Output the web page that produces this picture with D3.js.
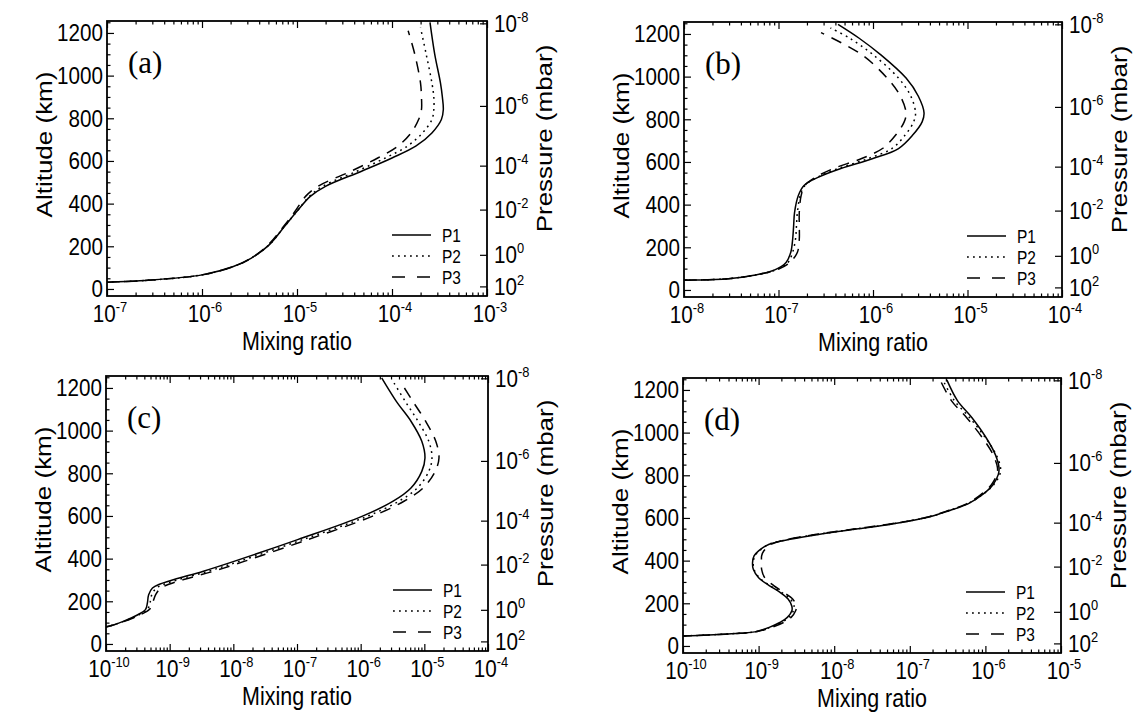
<!DOCTYPE html>
<html>
<head>
<meta charset="utf-8">
<script src="https://cdn.jsdelivr.net/npm/d3@7"></script>
<style>
  body { margin: 0; background: #fff; }
  svg text { font-family: "Liberation Sans", Arial, Helvetica, sans-serif; fill: #000; }
</style>
</head>
<body>
<svg id="chart" width="1134" height="712"></svg>
<script>
// ---- data -------------------------------------------------------------
const seriesNames = ["P1", "P2", "P3"];
const panelLetters = ["(a)", "(b)", "(c)", "(d)"];
// x-axis decades (exponents of 10) for each panel
const xExpRanges = [[-7, -3], [-8, -4], [-10, -4], [-10, -5]];
const altitudeTicks = [0, 200, 400, 600, 800, 1000, 1200];
// pressure levels (exponent of mbar) and the altitude (km) where they sit
const pressureExponents = [-8, -6, -4, -2, 0, 2];
const pressureAltitudes = [1245, 858, 578, 372, 160, 12];

// profiles: [altitude km, log10 mixing ratio]
const aP1 = [[28,-7.2],[32,-7.0],[40,-6.6],[66,-6.0],[105,-5.67],[145,-5.48],[208,-5.29],[294,-5.13],[364,-5.0],[434,-4.86],[481,-4.70],[552,-4.32],[614,-4.0],[669,-3.75],[731,-3.58],[794,-3.48],[840,-3.46],[900,-3.47],[966,-3.49],[1100,-3.55],[1250,-3.60]];
const aP2 = [[28,-7.2],[32,-7.0],[40,-6.6],[66,-6.0],[105,-5.67],[145,-5.48],[208,-5.29],[294,-5.13],[364,-5.0],[434,-4.87],[481,-4.73],[552,-4.37],[614,-4.07],[669,-3.84],[731,-3.68],[794,-3.58],[840,-3.56],[900,-3.56],[966,-3.58],[1100,-3.64],[1225,-3.70]];
const aP3 = [[28,-7.2],[32,-7.0],[40,-6.6],[66,-6.0],[105,-5.67],[145,-5.48],[208,-5.30],[294,-5.14],[364,-5.02],[434,-4.91],[481,-4.78],[552,-4.43],[614,-4.15],[669,-3.94],[731,-3.80],[794,-3.72],[840,-3.69],[900,-3.69],[966,-3.70],[1100,-3.76],[1210,-3.83]];

const bP1 = [[43,-8.2],[45,-8.0],[53,-7.53],[69,-7.26],[94,-7.04],[129,-6.92],[177,-6.87],[239,-6.85],[300,-6.84],[364,-6.83],[443,-6.79],[490,-6.73],[530,-6.57],[569,-6.34],[616,-6.0],[663,-5.73],[726,-5.58],[788,-5.48],[830,-5.46],[908,-5.52],[993,-5.65],[1103,-5.92],[1181,-6.15],[1245,-6.37]];
const bP2 = [[43,-8.2],[45,-8.0],[53,-7.53],[69,-7.26],[94,-7.03],[129,-6.90],[177,-6.85],[239,-6.82],[300,-6.81],[364,-6.80],[443,-6.77],[490,-6.72],[530,-6.58],[569,-6.37],[616,-6.05],[663,-5.80],[726,-5.66],[788,-5.57],[830,-5.55],[908,-5.60],[993,-5.73],[1103,-6.00],[1181,-6.25],[1228,-6.45]];
const bP3 = [[43,-8.2],[45,-8.0],[53,-7.53],[69,-7.26],[94,-7.02],[129,-6.88],[177,-6.80],[239,-6.78],[300,-6.78],[364,-6.78],[443,-6.76],[490,-6.72],[530,-6.60],[569,-6.42],[616,-6.12],[663,-5.90],[726,-5.76],[788,-5.67],[830,-5.65],[908,-5.71],[993,-5.85],[1103,-6.12],[1206,-6.55]];

const cP1 = [[70,-10.3],[80,-10.0],[106,-9.73],[137,-9.5],[161,-9.38],[192,-9.35],[231,-9.33],[262,-9.27],[281,-9.15],[302,-8.93],[341,-8.47],[387,-7.99],[489,-6.99],[598,-5.98],[669,-5.49],[731,-5.21],[809,-5.04],[872,-4.99],[950,-5.04],[1044,-5.21],[1137,-5.44],[1247,-5.67]];
const cP2 = [[70,-10.3],[80,-10.0],[106,-9.72],[137,-9.48],[161,-9.35],[192,-9.31],[231,-9.28],[262,-9.21],[281,-9.08],[302,-8.86],[341,-8.39],[387,-7.91],[489,-6.91],[598,-5.90],[669,-5.40],[731,-5.11],[809,-4.93],[872,-4.88],[950,-4.93],[1044,-5.10],[1137,-5.30],[1235,-5.50]];
const cP3 = [[70,-10.3],[80,-10.0],[106,-9.71],[137,-9.46],[161,-9.32],[192,-9.27],[231,-9.22],[262,-9.14],[281,-9.00],[302,-8.78],[341,-8.31],[387,-7.83],[489,-6.83],[598,-5.82],[669,-5.32],[731,-5.02],[809,-4.83],[872,-4.77],[950,-4.82],[1044,-4.98],[1137,-5.18],[1222,-5.36]];

const dP1 = [[45,-10.3],[47,-10.0],[54,-9.53],[60,-9.24],[66,-9.05],[87,-8.86],[110,-8.72],[134,-8.62],[165,-8.56],[186,-8.56],[220,-8.61],[252,-8.72],[283,-8.86],[320,-9.0],[359,-9.07],[391,-9.08],[422,-9.06],[446,-9.0],[477,-8.86],[501,-8.57],[524,-8.19],[548,-7.71],[572,-7.23],[603,-6.76],[635,-6.47],[666,-6.23],[709,-6.04],[756,-5.90],[803,-5.83],[835,-5.82],[898,-5.87],[976,-5.99],[1071,-6.18],[1150,-6.37],[1247,-6.51]];
const dP2 = [[45,-10.3],[47,-10.0],[54,-9.53],[60,-9.24],[66,-9.05],[87,-8.85],[110,-8.70],[134,-8.60],[165,-8.54],[186,-8.53],[220,-8.58],[252,-8.70],[283,-8.85],[320,-8.99],[359,-9.06],[391,-9.07],[422,-9.05],[446,-8.99],[477,-8.86],[501,-8.58],[524,-8.20],[548,-7.72],[572,-7.24],[603,-6.77],[635,-6.48],[666,-6.24],[709,-6.04],[756,-5.89],[803,-5.81],[835,-5.80],[898,-5.86],[976,-6.00],[1071,-6.21],[1150,-6.41],[1245,-6.56]];
const dP3 = [[45,-10.3],[47,-10.0],[54,-9.53],[60,-9.24],[66,-9.04],[87,-8.83],[110,-8.67],[134,-8.57],[165,-8.51],[186,-8.50],[220,-8.55],[252,-8.67],[283,-8.80],[320,-8.92],[359,-8.96],[391,-8.96],[422,-8.96],[446,-8.93],[477,-8.83],[501,-8.60],[524,-8.22],[548,-7.74],[572,-7.26],[603,-6.78],[635,-6.49],[666,-6.25],[709,-6.06],[756,-5.92],[803,-5.85],[835,-5.84],[898,-5.90],[976,-6.04],[1071,-6.25],[1150,-6.45],[1240,-6.59]];

const panelSeries = [[aP1, aP2, aP3], [bP1, bP2, bP3], [cP1, cP2, cP3], [dP1, dP2, dP3]];

// ---- layout -----------------------------------------------------------
const frames = [
  { x0: 107, x1: 487, y0: 21, y1: 296 },
  { x0: 684, x1: 1062, y0: 22, y1: 297 },
  { x0: 106, x1: 488, y0: 376, y1: 651 },
  { x0: 683, x1: 1061, y0: 378, y1: 653 }
];
const altDomain = [-33, 1256];
const dashStyles = [null, "1.8,4.2", "11,8"];
const TICK_FONT = 24;   // tick label size
const TITLE_FONT = 25;  // axis title size
const SQUEEZE = 0.86;   // horizontal squeeze of the sans text

const svg = d3.select("#chart");

// squeezed text placed at (x, y); optionally turned by -90 degrees
function addText(g, x, y, size, anchor, rotated) {
  const tf = rotated
    ? `translate(${x},${y}) rotate(-90) scale(1,${SQUEEZE})`
    : `translate(${x},${y}) scale(${SQUEEZE},1)`;
  return g.append("text").attr("transform", tf).attr("font-size", size).attr("text-anchor", anchor);
}
function powerLabel(t, exp) {
  t.append("tspan").text("10");
  t.append("tspan").attr("dy", -10).attr("font-size", 15).text(String(exp));
}

frames.forEach((f, i) => {
  const [lo, hi] = xExpRanges[i];
  const x = d3.scaleLog().domain([Math.pow(10, lo), Math.pow(10, hi)]).range([f.x0, f.x1]);
  const y = d3.scaleLinear().domain(altDomain).range([f.y1, f.y0]);
  const pAlt = d3.scaleLinear().domain(pressureExponents).range(pressureAltitudes);
  const g = svg.append("g");

  const clipId = "clip" + i;
  g.append("clipPath").attr("id", clipId)
    .append("rect").attr("x", f.x0).attr("y", f.y0).attr("width", f.x1 - f.x0).attr("height", f.y1 - f.y0);

  // log ticks: majors at the decades, minors 2..9
  const allX = x.ticks();
  const majorX = d3.range(lo, hi + 1).map(e => Math.pow(10, e));
  const minorX = allX.filter(v => Math.abs(Math.log10(v) - Math.round(Math.log10(v))) > 1e-6);

  const noDomain = s => s.selectAll("path.domain").remove();
  const axes = g.append("g");
  axes.append("g").attr("transform", `translate(0,${f.y1})`)
    .call(d3.axisBottom(x).tickValues(majorX).tickSize(-7).tickFormat("")).call(noDomain);
  axes.append("g").attr("transform", `translate(0,${f.y1})`)
    .call(d3.axisBottom(x).tickValues(minorX).tickSize(-3.5).tickFormat("")).call(noDomain);
  axes.append("g").attr("transform", `translate(0,${f.y0})`)
    .call(d3.axisTop(x).tickValues(majorX).tickSize(-7).tickFormat("")).call(noDomain);
  axes.append("g").attr("transform", `translate(0,${f.y0})`)
    .call(d3.axisTop(x).tickValues(minorX).tickSize(-3.5).tickFormat("")).call(noDomain);
  axes.append("g").attr("transform", `translate(${f.x0},0)`)
    .call(d3.axisLeft(y).tickValues(altitudeTicks).tickSize(-7).tickFormat("")).call(noDomain);
  axes.append("g").attr("transform", `translate(${f.x0},0)`)
    .call(d3.axisLeft(y).tickValues(d3.range(0, 1251, 50).filter(v => v % 200 !== 0)).tickSize(-3.5).tickFormat(""))
    .call(noDomain);
  axes.append("g").attr("transform", `translate(${f.x1},0)`)
    .call(d3.axisRight(y).tickValues(pressureExponents.map(p => pAlt(p))).tickSize(-7).tickFormat(""))
    .call(noDomain);
  axes.selectAll("line").attr("stroke", "#000").attr("stroke-width", 1.2);

  // frame
  g.append("rect").attr("x", f.x0).attr("y", f.y0).attr("width", f.x1 - f.x0).attr("height", f.y1 - f.y0)
    .attr("fill", "none").attr("stroke", "#000").attr("stroke-width", 1.8);

  // altitude labels
  altitudeTicks.forEach(a => {
    addText(g, f.x0 - 4, y(a) + 8.5, TICK_FONT, "end").text(a);
  });
  // x tick labels
  majorX.forEach((v, k) => {
    powerLabel(addText(g, x(v) + 3, f.y1 + 26, TICK_FONT, "middle"), lo + k);
  });
  // pressure labels
  pressureExponents.forEach(p => {
    powerLabel(addText(g, f.x1 + 7, y(pAlt(p)) + 8.5, TICK_FONT, "start"), p);
  });

  // axis titles
  addText(g, (f.x0 + f.x1) / 2, f.y1 + 54, TITLE_FONT, "middle").text("Mixing ratio");
  addText(g, f.x0 - 55, (f.y0 + f.y1) / 2 - 14, TITLE_FONT + 1, "middle", true).text("Altitude (km)");
  addText(g, f.x1 + 65, (f.y0 + f.y1) / 2 - 20, TITLE_FONT + 1, "middle", true).text("Pressure (mbar)");

  // panel letter
  g.append("text").attr("x", f.x0 + 21).attr("y", f.y0 + 52)
    .attr("font-size", 31)
    .style("font-family", "'Liberation Serif','Times New Roman',serif")
    .text(panelLetters[i]);

  // profiles
  const line = d3.line()
    .x(d => x(Math.pow(10, d[1])))
    .y(d => y(d[0]))
    .curve(d3.curveCatmullRom.alpha(0.5));
  panelSeries[i].forEach((data, s) => {
    g.append("path").datum(data)
      .attr("clip-path", `url(#${clipId})`)
      .attr("d", line)
      .attr("fill", "none").attr("stroke", "#000").attr("stroke-width", 1.5)
      .attr("stroke-dasharray", dashStyles[s]);
  });

  // legend
  seriesNames.forEach((name, s) => {
    const ly = f.y1 - 61 + s * 21;
    g.append("line").attr("x1", f.x1 - 95).attr("x2", f.x1 - 56).attr("y1", ly).attr("y2", ly)
      .attr("stroke", "#000").attr("stroke-width", 1.5)
      .attr("stroke-dasharray", s === 2 ? "13,12" : dashStyles[s]);
    addText(g, f.x1 - 45, ly + 6.5, 18, "start").text(name);
  });
});
</script>
</body>
</html>
